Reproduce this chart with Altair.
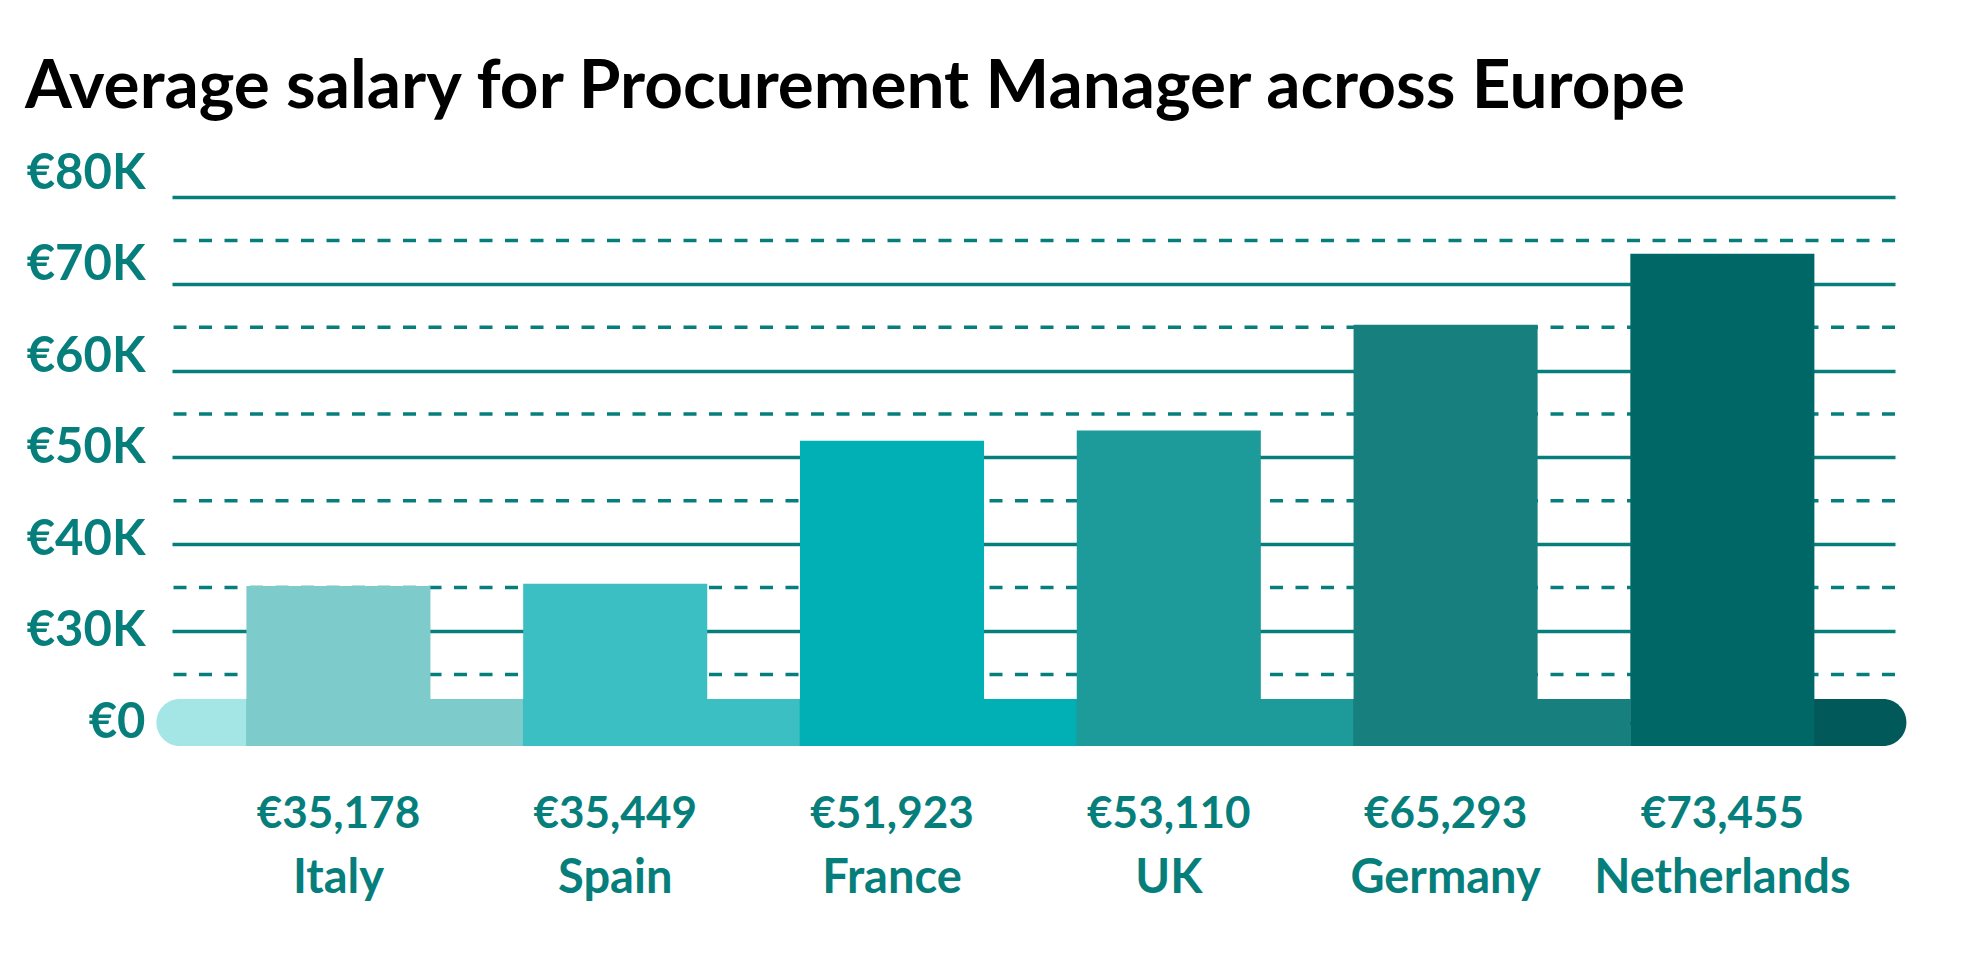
import altair as alt
import pandas as pd

# ---- data ----
countries = ["Italy", "Spain", "France", "UK", "Germany", "Netherlands"]
salaries = [35178, 35449, 51923, 53110, 65293, 73455]
bar_colors = ["#7ecbcb", "#3cbfc3", "#00b0b5", "#1d9a9a", "#187f7f", "#006767"]
solid_ticks = [30000, 40000, 50000, 60000, 70000, 80000]
dashed_ticks = [25000, 35000, 45000, 55000, 65000, 75000]

# ---- styling ----
TEAL = "#067f7c"
LEAD = "#a4e5e6"
TAIL = "#025959"
FONT = "Lato"

# broken axis: the baseline band stands for €0
BASE_LOW = 16750
BASE_HIGH = 22170
ZERO_POS = 19450
Y_MAX = 80000

df = pd.DataFrame({"country": countries, "salary": salaries})
df["label"] = ["€{:,}".format(v) for v in salaries]
dash_df = pd.DataFrame({"v": dashed_ticks})

xenc = alt.X(
    "country:N",
    sort=countries,
    scale=alt.Scale(paddingInner=0.335, paddingOuter=0.28, align=0.48),
    axis=None,
)
yscale = alt.Scale(domain=[BASE_LOW, Y_MAX], nice=False, zero=False)
color = alt.Color("country:N", scale=alt.Scale(domain=countries, range=bar_colors), legend=None)

label_offsets = {80000: -24, 70000: -19, 60000: -14.5, 50000: -9.5, 40000: -4.5}

yaxis = alt.Axis(
    values=[ZERO_POS] + solid_ticks,
    labelExpr="datum.value < 25000 ? '€0' : '€' + (datum.value / 1000) + 'K'",
    grid=True,
    gridColor=TEAL,
    gridWidth=3.5,
    domain=False,
    ticks=False,
    labelPadding=27,
    labelFont=FONT,
    labelFontSize=49,
    labelFontWeight="bold",
    labelColor=TEAL,
    labelOverlap=False,
    labelOffset={
        "condition": [
            {"test": "datum.value == %d" % k, "value": v}
            for k, v in label_offsets.items()
        ],
        "value": 0,
    },
    title=None,
)

def ydat(v):
    return alt.YDatum(v, scale=yscale, axis=yaxis)

base = alt.Chart(df)

dashed = alt.Chart(dash_df).mark_rule(
    color=TEAL, strokeWidth=3.5, strokeDash=[13, 12.5]
).encode(y=alt.Y("v:Q", scale=yscale, axis=yaxis))

lead_cap = base.transform_filter(alt.datum.country == countries[0]).mark_bar(
    color=LEAD, cornerRadius=23.5, xOffset=-90
).encode(x=xenc, y=ydat(BASE_LOW), y2=alt.datum(BASE_HIGH))

tail_cap = base.transform_filter(alt.datum.country == countries[-1]).mark_bar(
    color=TAIL, cornerRadius=23.5, xOffset=92
).encode(x=xenc, y=ydat(BASE_LOW), y2=alt.datum(BASE_HIGH))

segments = base.transform_filter(alt.datum.country != countries[-1]).mark_bar(
    width=alt.RelativeBandSize(1.507), xOffset=46.4
).encode(x=xenc, y=ydat(BASE_LOW), y2=alt.datum(BASE_HIGH), color=color)

bars = base.mark_bar().encode(
    x=xenc,
    y=alt.Y("salary:Q", scale=yscale, axis=yaxis),
    y2=alt.datum(BASE_LOW),
    color=color,
)

value_text = base.mark_text(
    dy=82, baseline="alphabetic", align="center", font=FONT, fontSize=44,
    fontWeight="bold", color=TEAL
).encode(x=xenc, y=ydat(BASE_LOW), text="label:N")

country_text = base.mark_text(
    dy=146.5, baseline="alphabetic", align="center", font=FONT, fontSize=47,
    fontWeight="bold", color=TEAL
).encode(x=xenc, y=ydat(BASE_LOW), text="country:N")

chart = alt.layer(
    dashed, lead_cap, tail_cap, segments, bars, value_text, country_text
).properties(
    width=1723,
    height=549,
    autosize=alt.AutoSizeParams(type="none"),
    padding={"left": 164, "top": 189, "right": 60, "bottom": 190},
    background="white",
    title=alt.TitleParams(
        "Average salary for Procurement Manager across Europe",
        anchor="start",
        frame="group",
        font=FONT,
        fontSize=67.5,
        fontWeight="bold",
        color="#000000",
        dx=-147,
        offset=27,
    ),
).configure_view(stroke=None)

chart.save("out.html", embed_options={"renderer": "svg", "actions": False})
